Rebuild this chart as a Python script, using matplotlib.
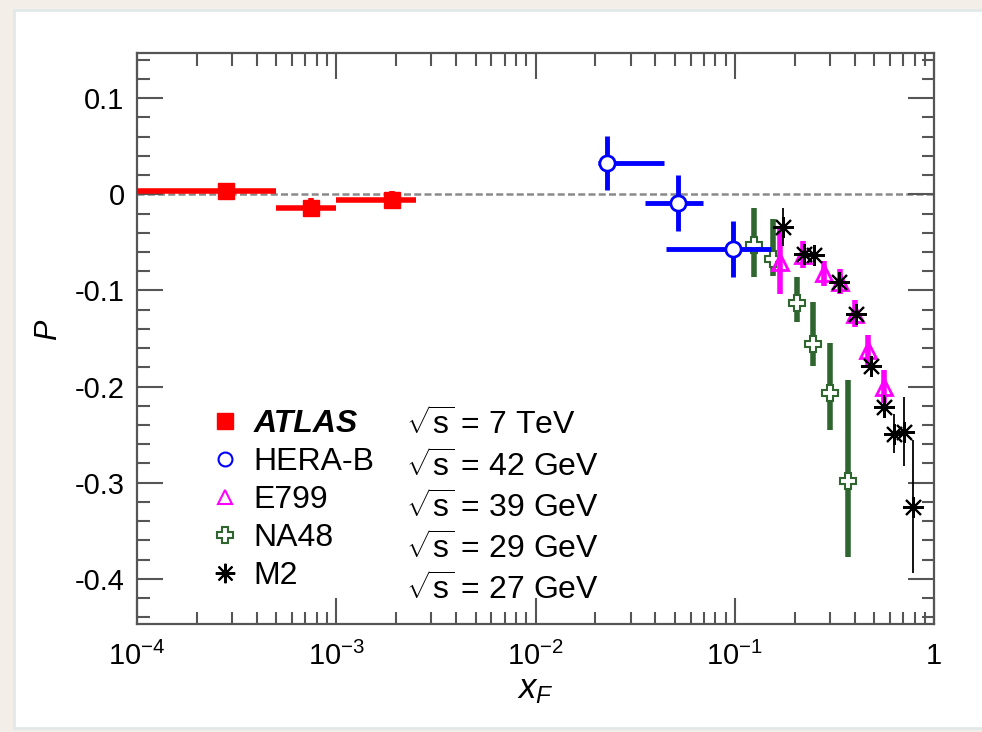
import matplotlib
matplotlib.use("Agg")
import matplotlib.pyplot as plt
from matplotlib.lines import Line2D
from matplotlib.patches import Rectangle
from matplotlib.ticker import LogLocator, MultipleLocator, FixedLocator, NullFormatter
import numpy as np

plt.rcParams['font.family'] = ['Liberation Sans', 'DejaVu Sans']
plt.rcParams['mathtext.fontset'] = 'custom'
plt.rcParams['mathtext.rm'] = 'Liberation Sans'
plt.rcParams['mathtext.it'] = 'Liberation Sans:italic'
plt.rcParams['mathtext.bf'] = 'Liberation Sans:bold'

# ---------------- data ----------------
atlas_x = [2.8e-4, 7.5e-4, 1.9e-3]
atlas_xlo = [1.0e-4, 5.0e-4, 1.0e-3]
atlas_xhi = [5.0e-4, 1.0e-3, 2.5e-3]
atlas_y = [0.003, -0.014, -0.006]
atlas_ey = [0.009, 0.010, 0.009]

herab_x = [0.0228, 0.052, 0.098]
herab_xlo = [0.0205, 0.0353, 0.045]
herab_xhi = [0.044, 0.069, 0.152]
herab_y = [0.033, -0.009, -0.057]
herab_ey = [0.028, 0.029, 0.029]

e799_x = [0.168, 0.221, 0.279, 0.337, 0.401, 0.465, 0.559]
e799_y = [-0.070, -0.063, -0.082, -0.091, -0.124, -0.162, -0.200]
e799_ey = [0.034, 0.014, 0.013, 0.013, 0.014, 0.016, 0.017]

na48_x = [0.125, 0.155, 0.206, 0.246, 0.299, 0.371]
na48_y = [-0.053, -0.0675, -0.113, -0.156, -0.207, -0.298]
na48_ey_lo = [0.033, 0.018, 0.020, 0.023, 0.038, 0.079]
na48_ey_hi = [0.039, 0.042, 0.027, 0.044, 0.052, 0.105]

m2_x = [0.174, 0.223, 0.250, 0.334, 0.405, 0.482, 0.562, 0.631, 0.709, 0.787]
m2_y = [-0.034, -0.062, -0.063, -0.091, -0.124, -0.179, -0.221, -0.249, -0.247, -0.325]
m2_ey = [0.020, 0.010, 0.010, 0.010, 0.010, 0.010, 0.012, 0.020, 0.036, 0.069]

names = ["ATLAS", "HERA-B", "E799", "NA48", "M2"]
energies = [r"$\sqrt{\mathrm{s}}$ = 7 TeV", r"$\sqrt{\mathrm{s}}$ = 42 GeV",
            r"$\sqrt{\mathrm{s}}$ = 39 GeV", r"$\sqrt{\mathrm{s}}$ = 29 GeV",
            r"$\sqrt{\mathrm{s}}$ = 27 GeV"]

RED = '#ff0000'
BLUE = '#0000ff'
MAG = '#ff00ff'
GREEN = '#2f662f'
BLACK = '#000000'
AST = (8, 2, 0)

# ---------------- figure ----------------
fig = plt.figure(figsize=(9.82, 7.32), dpi=100)
fig.patch.set_facecolor('#f3efe8')
card = Rectangle((14 / 982, 1 - 728 / 732), 1.1, (728 - 10) / 732, transform=fig.transFigure,
                 facecolor='white', edgecolor='#e2e8e8', linewidth=2.0, zorder=-10)
fig.patches.append(card)

ax = fig.add_axes([137 / 982, 1 - 624 / 732, (934 - 137) / 982, (624 - 53) / 732])
ax.set_zorder(1)
ax.set_facecolor('white')
ax.set_xscale('log')
ax.set_xlim(1e-4, 1)
ax.set_ylim(-0.447, 0.147)

ax.axhline(0, color='#8a8a8a', lw=1.8, ls=(0, (2.8, 1.3)), zorder=1)

def xerrs(x, lo, hi):
    x = np.asarray(x); return [x - np.asarray(lo), np.asarray(hi) - x]

ax.errorbar(atlas_x, atlas_y, yerr=atlas_ey, xerr=xerrs(atlas_x, atlas_xlo, atlas_xhi),
            fmt='s', color=RED, ms=11, elinewidth=4, capsize=0, zorder=5)
ax.errorbar(herab_x, herab_y, yerr=herab_ey, xerr=xerrs(herab_x, herab_xlo, herab_xhi),
            fmt='o', color=BLUE, mfc='white', mec=BLUE, mew=2, ms=11, elinewidth=3.5,
            capsize=0, zorder=4)
ax.errorbar(na48_x, na48_y, yerr=[na48_ey_lo, na48_ey_hi], fmt='P', color=GREEN,
            mfc='white', mec=GREEN, mew=1.5, ms=12, elinewidth=4, capsize=0, zorder=3)
ax.errorbar(e799_x, e799_y, yerr=e799_ey, fmt='^', color=MAG, mfc='none', mec=MAG,
            mew=2, ms=11, elinewidth=4, capsize=0, zorder=5)
ax.errorbar(m2_x, m2_y, yerr=m2_ey, fmt='none', ecolor=BLACK, elinewidth=1.3,
            capsize=0, zorder=6)
ax.plot(m2_x, m2_y, ls='none', marker=AST, color=BLACK, ms=15, mew=1.5, zorder=6)

# ---------------- axes style ----------------
for s in ax.spines.values():
    s.set_color('#555555')
    s.set_linewidth(1.6)
ax.xaxis.set_major_locator(FixedLocator([1e-4, 1e-3, 1e-2, 1e-1, 1]))
ax.xaxis.set_minor_locator(LogLocator(base=10, subs=np.arange(2, 10)))
ax.xaxis.set_minor_formatter(NullFormatter())
ax.set_xticklabels([r'$10^{-4}$', r'$10^{-3}$', r'$10^{-2}$', r'$10^{-1}$', '1'])
ax.yaxis.set_minor_locator(MultipleLocator(0.02))
ax.set_yticks([0.1, 0, -0.1, -0.2, -0.3, -0.4])
ax.set_yticklabels(['0.1', '0', '-0.1', '-0.2', '-0.3', '-0.4'])
ax.tick_params(which='both', direction='in', top=True, right=True, color='#555555')
ax.tick_params(which='major', length=19, width=1.5)
ax.tick_params(which='minor', length=9, width=1.5)
ax.tick_params(axis='x', which='major', labelsize=21, pad=13)
ax.tick_params(axis='y', which='major', labelsize=21, pad=9)

ax.set_xlabel(r'$x_F$', fontsize=25)
ax.xaxis.set_label_coords(0.5, -0.085)
ax.set_ylabel(r'$P$', fontsize=22, rotation=90)
ax.yaxis.set_label_coords(-0.092, 0.515)

# ---------------- legend ----------------
handles = [
    Line2D([], [], ls='none', marker='s', color=RED, ms=11),
    Line2D([], [], ls='none', marker='o', mfc='white', mec=BLUE, mew=1.5, ms=10),
    Line2D([], [], ls='none', marker='^', mfc='white', mec=MAG, mew=1.5, ms=10),
    Line2D([], [], ls='none', marker='P', mfc='white', mec=GREEN, mew=1.5, ms=11),
    Line2D([], [], ls='none', marker=AST, color=BLACK, mew=1.5, ms=14),
]
leg = ax.legend(handles, names, loc='upper left', bbox_to_anchor=(0.092, 0.376),
                frameon=False, fontsize=23, handlelength=0.9, handletextpad=0.45,
                labelspacing=0.25, borderpad=0, borderaxespad=0)
leg.get_texts()[0].set_fontweight('bold')
leg.get_texts()[0].set_fontstyle('italic')
ax.add_artist(leg)
blank = [Line2D([], [], ls='none') for _ in energies]
leg2 = ax.legend(blank, energies, loc='upper left', bbox_to_anchor=(0.337, 0.376),
                 frameon=False, fontsize=23, handlelength=0, handletextpad=0,
                 labelspacing=0.25, borderpad=0, borderaxespad=0)

fig.savefig('out.png', dpi=100, facecolor=fig.get_facecolor())
